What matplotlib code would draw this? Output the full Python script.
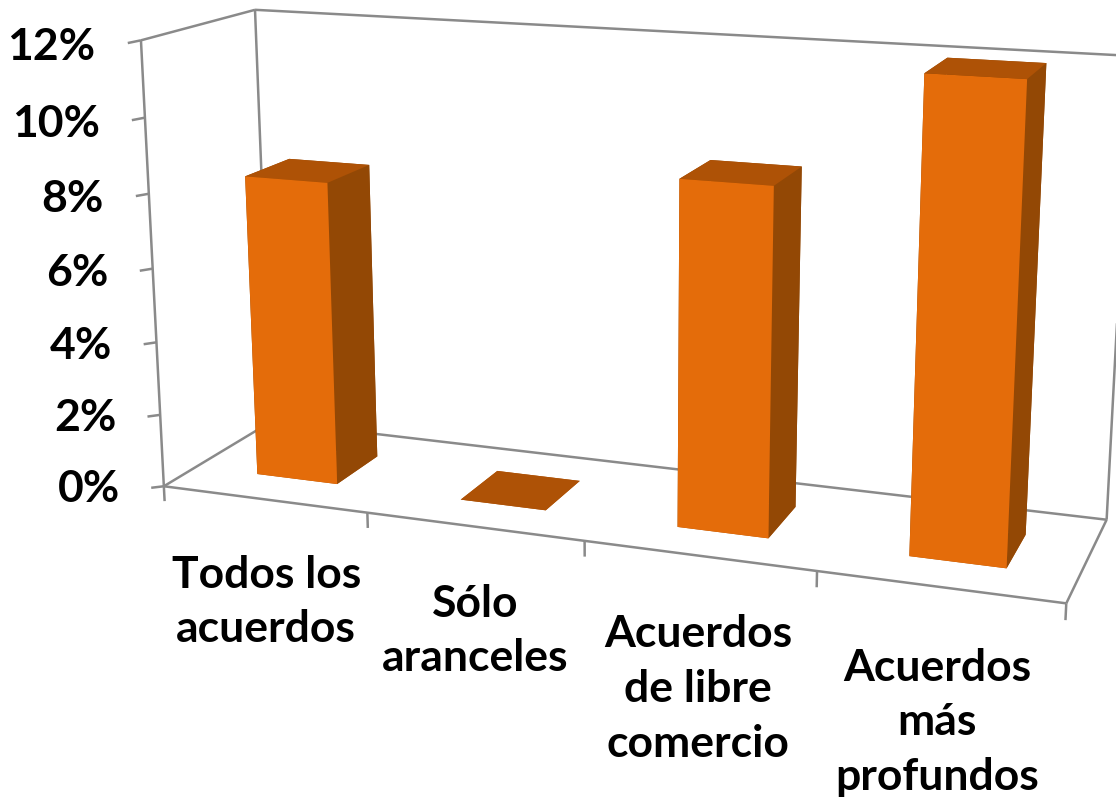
#!/usr/bin/python3

### 3D bars, acuerdos comerciales
### The camera of the reference is not a plain view_init one, so the 3D axes gets
### a projection solved from the corners of the chart box

import numpy as np
import matplotlib
matplotlib.use('Agg')
import matplotlib.pyplot as plt
from mpl_toolkits.mplot3d import proj3d

categories = ['Todos los\nacuerdos', 'Sólo\naranceles', 'Acuerdos\nde libre\ncomercio', 'Acuerdos\nmás\nprofundos']
values = [8.25, 0.0, 9.05, 12.0]
y_ticks = [0, 2, 4, 6, 8, 10, 12]

FRONT = '#E46C0A'
SIDE = '#934805'
TOP = '#AE5206'
LINE = '#8A8A8A'

WIDTH, HEIGHT = 1116, 801
N = len(values)
ZMAX = y_ticks[-1]

# box corner (x, y, z) -> pixel
box_corners = [(0, 0, 0), (0, 0, ZMAX), (0, 1, 0), (0, 1, ZMAX), (N, 0, 0), (N, 1, 0), (N, 1, ZMAX)]
box_pixels = [(165, 486), (140, 40), (270, 422), (256, 10), (1066, 604), (1107, 519), (1131, 56)]


def solve_projection(corners, pixels):
	""" Least squares camera matrix, last element fixed to 1 """
	rows = []
	rhs = []
	for (x, y, z), (u, v) in zip(corners, pixels):
		rows.append([x, y, z, 1, 0, 0, 0, 0, -u*x, -u*y, -u*z])
		rows.append([0, 0, 0, 0, x, y, z, 1, -v*x, -v*y, -v*z])
		rhs += [u, v]
	p = np.linalg.lstsq(np.array(rows, float), np.array(rhs, float), rcond=None)[0]
	w_row = np.append(p[8:11], 1)
	depth_row = w_row - np.array([0, 0, 0, 1.0])
	return np.array([p[:4], p[4:8], depth_row, w_row])


def label(x, y, z, s, **kwargs):
	""" Text at a 3D position, stored as plain 2D text """
	u, v, _ = proj3d.proj_transform(x, y, z, proj)
	ax.text2D(u, v, s, transform=ax.transData, fontsize=32, fontweight='bold', color='black', zorder=5, **kwargs)


plt.rcParams['font.family'] = ['Lato', 'DejaVu Sans']

fig = plt.figure(figsize=(WIDTH/100, HEIGHT/100), dpi=100)
ax = fig.add_axes([0, 0, 1, 1], projection='3d', computed_zorder=False)
ax.set_axis_off()
ax.patch.set_visible(False)

# fill the figure and work in pixels on the 2D side
proj = solve_projection(box_corners, box_pixels)
ax.set_proj_type('ortho')  # only turns off the view box clipping of the lines
ax.get_proj = lambda: proj
ax.apply_aspect = lambda position=None: None
ax.viewLim.intervalx = (0, WIDTH)
ax.viewLim.intervaly = (HEIGHT, 0)

# walls and floor
line_kw = dict(color=LINE, lw=1.8, solid_capstyle='butt', zorder=1)
box_edges = [
	((0, 0, 0), (N, 0, 0)), ((0, 0, 0), (0, 1, 0)), ((0, 1, 0), (N, 1, 0)), ((N, 0, 0), (N, 1, 0)),
	((0, 0, 0), (0, 0, ZMAX)), ((0, 1, 0), (0, 1, ZMAX)), ((N, 1, 0), (N, 1, ZMAX)),
	((0, 0, ZMAX), (0, 1, ZMAX)), ((0, 1, ZMAX), (N, 1, ZMAX)),
]
for p0, p1 in box_edges:
	ax.plot(*zip(p0, p1), **line_kw)

# ticks
for i in range(N + 1):
	ax.plot([i, i], [0, 0], [0, -0.42], **line_kw)
for t in y_ticks:
	ax.plot([0, -0.065], [0, 0], [t, t - 0.09], **line_kw)
	label(-0.225, 0, t - 0.24, '%d%%' % t, ha='right', va='center')

# bars
for i, v in enumerate(values):
	faces = [TOP, TOP, FRONT, SIDE, SIDE, SIDE]
	ax.bar3d(i + 0.31, 0.29, 0, 0.40, 0.41, v, color=faces, shade=False, zorder=3)

# category labels
for i, c in enumerate(categories):
	label(i + 0.5, 0, -1.55, c, ha='center', va='top', linespacing=1.45)

fig.savefig('out.png', dpi=100)
